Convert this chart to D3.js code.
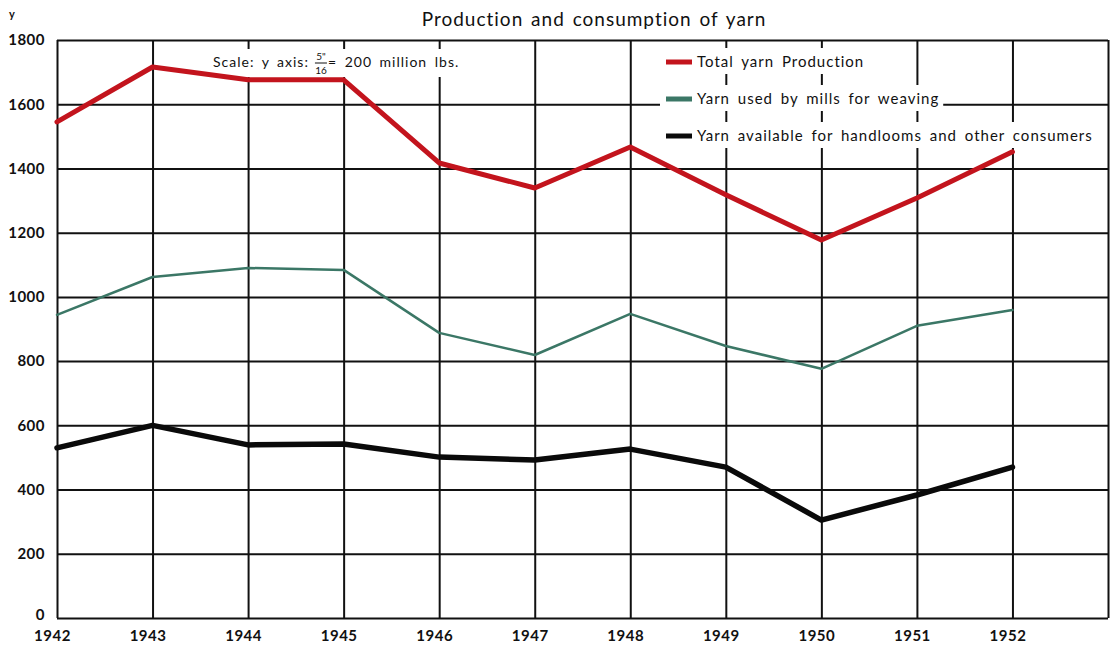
<!DOCTYPE html>
<html>
<head>
<meta charset="utf-8">
<script src="https://cdn.jsdelivr.net/npm/d3@7"></script>
<style>
  body { margin: 0; background: #fff; }
  text { font-family: Lato, "Open Sans", sans-serif; fill: #111; }
</style>
</head>
<body>
<div class="chart"></div>
<script>
var years = [1942, 1943, 1944, 1945, 1946, 1947, 1948, 1949, 1950, 1951, 1952];
var totalProduction = [1545, 1716, 1676, 1676, 1417, 1339, 1467, 1318, 1177, 1308, 1452];
var millsWeaving = [944, 1062, 1090, 1084, 888, 819, 947, 847, 776, 910, 959];
var handlooms = [530, 600, 539, 542, 501, 492, 526, 470, 305, 383, 470];
var yTicks = [0, 200, 400, 600, 800, 1000, 1200, 1400, 1600, 1800];
var seriesNames = ["Total yarn Production", "Yarn used by mills for weaving", "Yarn available for handlooms and other consumers"];

var width = 1111, height = 648;
var margin = {left: 57, right: 3, top: 40, bottom: 30};

var svg = d3.select(".chart").append("svg")
    .attr("width", width)
    .attr("height", height);

var x = d3.scaleLinear()
    .domain([1942, 1953])
    .range([margin.left, width - margin.right]);

var y = d3.scaleLinear()
    .domain([0, 1800])
    .range([height - margin.bottom, margin.top]);

// horizontal grid + y labels
var yAxis = svg.append("g")
    .attr("transform", "translate(" + margin.left + ",0)")
    .call(d3.axisLeft(y)
        .tickValues(yTicks)
        .tickFormat(d3.format("d"))
        .tickSize(-(width - margin.left - margin.right))
        .tickPadding(12));
yAxis.select(".domain").remove();
yAxis.selectAll("line").attr("stroke", "#111").attr("stroke-width", 2);
yAxis.selectAll("text")
    .attr("font-size", 15)
    .attr("font-weight", 700)
    .attr("letter-spacing", 0.5)
    .attr("dy", function(d) { return d == 0 ? "0.1em" : "0.32em"; })
    .style("font-family", "Lato, sans-serif");

// vertical grid + year labels
var xAxis = svg.append("g")
    .attr("transform", "translate(0," + (height - margin.bottom) + ")")
    .call(d3.axisBottom(x)
        .tickValues(years.concat([1953]))
        .tickFormat(function(d) { return d == 1953 ? "" : d; })
        .tickSize(-(height - margin.top - margin.bottom))
        .tickPadding(12));
xAxis.select(".domain").remove();
xAxis.selectAll("line").attr("stroke", "#111").attr("stroke-width", 2);
xAxis.selectAll("text")
    .attr("font-size", 15)
    .attr("font-weight", 700)
    .attr("letter-spacing", 0.5)
    .attr("dx", -5)
    .style("font-family", "Lato, sans-serif");

// title and notes
svg.append("text")
    .attr("x", 594)
    .attr("y", 26)
    .attr("text-anchor", "middle")
    .attr("font-size", 19)
    .attr("letter-spacing", 1)
    .attr("word-spacing", 2)
    .text("Production and consumption of yarn");

svg.append("text")
    .attr("x", 12)
    .attr("y", 18)
    .attr("text-anchor", "middle")
    .attr("font-size", 11)
    .attr("font-weight", 700)
    .text("y");

var note = svg.append("g").attr("transform", "translate(213,67)");
var noteBg = note.append("rect").attr("fill", "#fff");
var n1 = note.append("text").attr("x", 0).attr("y", 0)
    .attr("font-size", 14).attr("letter-spacing", 1).attr("word-spacing", 3)
    .text("Scale: y axis:");
var fx = n1.node().getBBox().width + 12;
note.append("text").attr("x", fx).attr("y", -7).attr("font-size", 10).attr("text-anchor", "middle").text("5\"");
note.append("line").attr("x1", fx - 6).attr("x2", fx + 6).attr("y1", -4).attr("y2", -4).attr("stroke", "#111").attr("stroke-width", 1);
note.append("text").attr("x", fx).attr("y", 7).attr("font-size", 10).attr("text-anchor", "middle").text("16");
var n2 = note.append("text").attr("x", fx + 7).attr("y", 0)
    .attr("font-size", 14).attr("letter-spacing", 1).attr("word-spacing", 3)
    .text("= 200 million lbs.");
var nb = n2.node().getBBox();
noteBg.attr("x", -4).attr("y", -18).attr("width", nb.x + nb.width + 8).attr("height", 28);

// lines
var line = d3.line()
    .x(function(d, i) { return x(years[i]); })
    .y(function(d) { return y(d); });

var series = [
    {values: totalProduction, color: "#c3141d", w: 5},
    {values: millsWeaving, color: "#3b7766", w: 2.5},
    {values: handlooms, color: "#0a0a0a", w: 5.5}
];

svg.selectAll(".series")
    .data(series)
    .enter()
    .append("path")
    .attr("class", "series")
    .attr("d", function(d) { return line(d.values); })
    .attr("fill", "none")
    .attr("stroke", function(d) { return d.color; })
    .attr("stroke-width", function(d) { return d.w; })
    .attr("stroke-linejoin", "round")
    .attr("stroke-linecap", "round");

// legend
var legendY = [62, 99, 136];
for (let i = 0; i < seriesNames.length; i++) {
    var g = svg.append("g").attr("transform", "translate(664," + legendY[i] + ")");
    var bg = g.append("rect").attr("fill", "#fff");
    g.append("line")
        .attr("x1", 2).attr("x2", 28)
        .attr("y1", 0).attr("y2", 0)
        .attr("stroke", series[i].color)
        .attr("stroke-width", 5);
    var t = g.append("text")
        .attr("x", 33)
        .attr("y", 5)
        .attr("font-size", 15)
        .attr("letter-spacing", 1)
        .attr("word-spacing", 3)
        .text(seriesNames[i]);
    var bb = t.node().getBBox();
    bg.attr("x", -4).attr("y", bb.y - 4)
        .attr("width", bb.x + bb.width + 8).attr("height", bb.height + 8);
}
</script>
</body>
</html>
